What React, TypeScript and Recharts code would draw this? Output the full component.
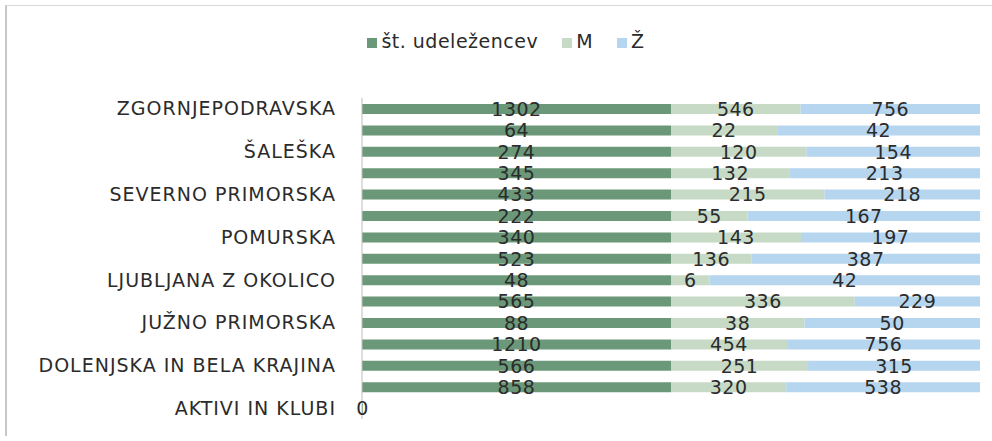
import { BarChart, Bar, XAxis, YAxis, Legend, LabelList } from 'recharts';

const regions = [
  'ZGORNJEPODRAVSKA',
  'ZASAVSKA',
  'ŠALEŠKA',
  'SAVINJSKA',
  'SEVERNO PRIMORSKA',
  'POSAVSKA',
  'POMURSKA',
  'NOTRANJSKA',
  'LJUBLJANA Z OKOLICO',
  'KOROŠKA',
  'JUŽNO PRIMORSKA',
  'GORENJSKA',
  'DOLENJSKA IN BELA KRAJINA',
  'CELJSKA',
  'AKTIVI IN KLUBI',
];
const participants = [1302, 64, 274, 345, 433, 222, 340, 523, 48, 565, 88, 1210, 566, 858, 0];
const men = [546, 22, 120, 132, 215, 55, 143, 136, 6, 336, 38, 454, 251, 320, 0];
const women = [756, 42, 154, 213, 218, 167, 197, 387, 42, 229, 50, 756, 315, 538, 0];
const seriesNames = ['št. udeležencev', 'M', 'Ž'];

const data = regions.map((name, i) => ({
  name,
  total: participants[i],
  m: men[i],
  z: women[i],
}));

const FONT = '"DejaVu Sans", "Open Sans", sans-serif';
const hideZero = (v: any) => (v === 0 ? '' : v);

export default function App() {
  return (
    <div style={{ position: 'relative', width: 992, height: 441, background: '#fff', fontFamily: FONT }}>
      <style>{'body{margin:0}'}</style>
      <div style={{ position: 'absolute', left: 5, top: 5, width: 986, height: 430, borderLeft: '2px solid #c8c8c8', borderTop: '1px solid #d8d8d8' }} />
      <BarChart
        width={992}
        height={441}
        data={data}
        layout="vertical"
        stackOffset="expand"
        barSize={10}
        margin={{ top: 76, right: 12, bottom: 22, left: 0 }}
      >
        <XAxis type="number" hide />
        <YAxis
          type="category"
          dataKey="name"
          width={362}
          interval={1}
          tickLine={false}
          tickSize={0}
          tickMargin={26}
          axisLine={{ stroke: '#bdbdbd' }}
          tick={{ fill: '#2b2b2b', fontSize: 19, fontFamily: FONT, letterSpacing: 1 }}
        />
        <Legend
          verticalAlign="top"
          align="center"
          iconType="square"
          iconSize={10}
          itemSorter={(item: any) => seriesNames.indexOf(item.value)}
          wrapperStyle={{ top: 30, left: 22, width: 992, fontSize: 19, fontFamily: FONT, letterSpacing: 0.5 }}
          formatter={(value) => <span style={{ color: '#2b2b2b', marginRight: 14 }}>{value}</span>}
        />
        <Bar dataKey="total" name={seriesNames[0]} stackId="a" fill="#6a9878" minPointSize={1} isAnimationActive={false}>
          <LabelList dataKey="total" position="center" fill="#2b2b2b" fontSize={19} fontFamily={FONT} letterSpacing={0.5} />
        </Bar>
        <Bar dataKey="m" name={seriesNames[1]} stackId="a" fill="#c6dac6" isAnimationActive={false}>
          <LabelList dataKey="m" position="center" fill="#2b2b2b" fontSize={19} fontFamily={FONT} letterSpacing={0.5} formatter={hideZero} />
        </Bar>
        <Bar dataKey="z" name={seriesNames[2]} stackId="a" fill="#b6d5ee" isAnimationActive={false}>
          <LabelList dataKey="z" position="center" fill="#2b2b2b" fontSize={19} fontFamily={FONT} letterSpacing={0.5} formatter={hideZero} />
        </Bar>
      </BarChart>
    </div>
  );
}
